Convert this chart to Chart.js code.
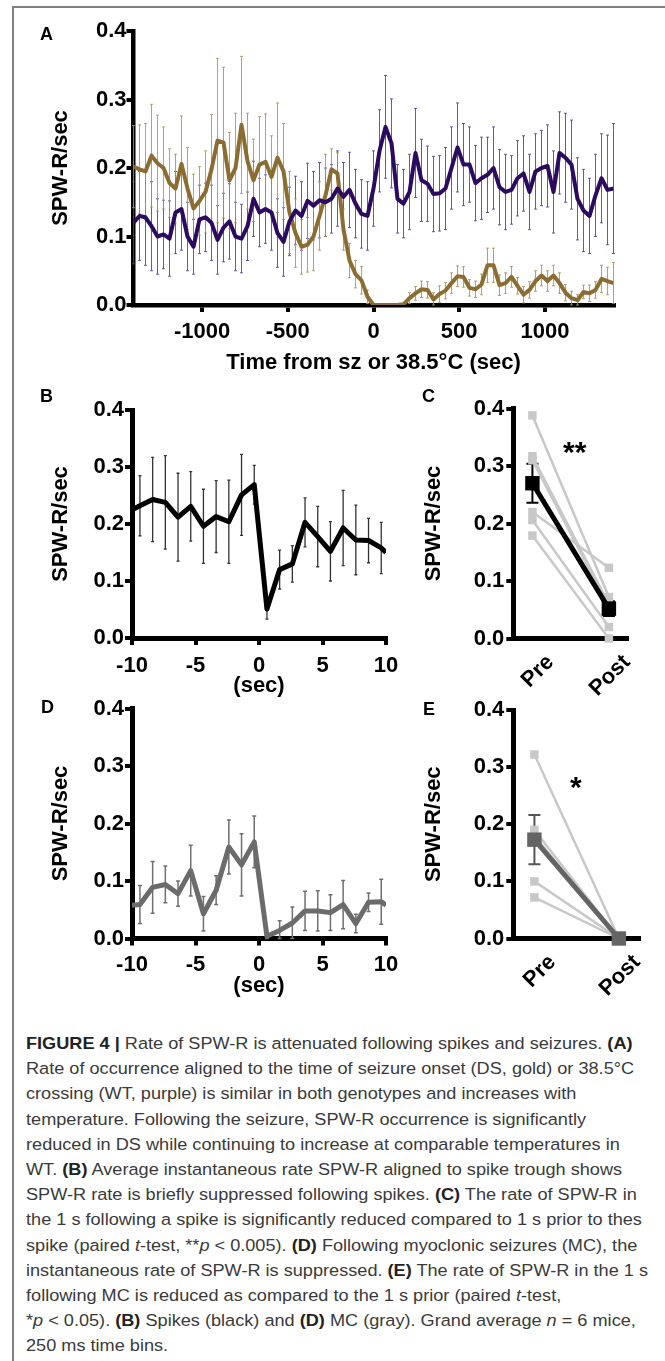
<!DOCTYPE html>
<html>
<head>
<meta charset="utf-8">
<script src="https://cdn.jsdelivr.net/npm/chart.js@4.4.0/dist/chart.umd.min.js"></script>
<style>
  body { margin: 0; background: #fff; width: 665px; height: 1361px; position: relative; overflow: hidden;
         font-family: "Liberation Sans", Arial, sans-serif; }
  canvas { position: absolute; }
  .frame-left { position: absolute; left: 12px; top: 6px; width: 2px; height: 1355px; background: #808080; }
  .frame-top { position: absolute; left: 12px; top: 6px; width: 653px; height: 2px; background: #808080; }
  .letter { position: absolute; font-weight: bold; font-size: 18px; line-height: 18px; color: #000; }
  .star { position: absolute; font-weight: bold; font-size: 30px; line-height: 30px; color: #000; }
  #caption { position: absolute; left: 26px; top: 1031px; font-size: 16.7px; line-height: 25.2px;
             color: #3a3a3a; white-space: nowrap; transform-origin: 0 0; }
  #caption .ln { width: max-content; }
  #caption b { color: #222; }
</style>
</head>
<body>
<div class="frame-left"></div>
<div class="frame-top"></div>

<canvas id="chart-a" width="665" height="385" style="left:0;top:0"></canvas>
<canvas id="chart-b" width="420" height="330" style="left:0;top:380px"></canvas>
<canvas id="chart-c" width="285" height="330" style="left:380px;top:380px"></canvas>
<canvas id="chart-d" width="420" height="330" style="left:0;top:680px"></canvas>
<canvas id="chart-e" width="285" height="330" style="left:380px;top:680px"></canvas>

<div class="letter" style="left:40px;top:25px">A</div>
<div class="letter" style="left:40px;top:387px">B</div>
<div class="letter" style="left:422px;top:387px">C</div>
<div class="letter" style="left:41px;top:698px">D</div>
<div class="letter" style="left:423px;top:700px">E</div>
<div class="star" style="left:563px;top:437px">**</div>
<div class="star" style="left:570px;top:772px">*</div>

<div id="caption">
  <div class="ln"><b>FIGURE 4 | </b>Rate of SPW-R is attenuated following spikes and seizures. <b>(A)</b></div>
  <div class="ln">Rate of occurrence aligned to the time of seizure onset (DS, gold) or 38.5°C</div>
  <div class="ln">crossing (WT, purple) is similar in both genotypes and increases with</div>
  <div class="ln">temperature. Following the seizure, SPW-R occurrence is significantly</div>
  <div class="ln">reduced in DS while continuing to increase at comparable temperatures in</div>
  <div class="ln">WT. <b>(B)</b> Average instantaneous rate SPW-R aligned to spike trough shows</div>
  <div class="ln">SPW-R rate is briefly suppressed following spikes. <b>(C)</b> The rate of SPW-R in</div>
  <div class="ln">the 1 s following a spike is significantly reduced compared to 1 s prior to thes</div>
  <div class="ln">spike (paired <i>t</i>-test, **<i>p</i> &lt; 0.005). <b>(D)</b> Following myoclonic seizures (MC), the</div>
  <div class="ln">instantaneous rate of SPW-R is suppressed. <b>(E)</b> The rate of SPW-R in the 1 s</div>
  <div class="ln">following MC is reduced as compared to the 1 s prior (paired <i>t</i>-test,</div>
  <div class="ln">*<i>p</i> &lt; 0.05). <b>(B)</b> Spikes (black) and <b>(D)</b> MC (gray). Grand average <i>n</i> = 6 mice,</div>
  <div class="ln">250 ms time bins.</div>
</div>

<script>
// Panel A: rate around seizure onset / 38.5°C (sec)
const timeA = [-1400, -1365, -1330, -1295, -1260, -1225, -1190, -1155, -1120, -1085,
  -1050, -1015, -980, -945, -910, -875, -840, -805, -770, -735,
  -700, -665, -630, -595, -560, -525, -490, -455, -420, -385,
  -350, -315, -280, -245, -210, -175, -140, -105, -70, -35,
  0, 35, 70, 105, 140, 175, 210, 245, 280, 315,
  350, 385, 420, 455, 490, 525, 560, 595, 630, 665,
  700, 735, 770, 805, 840, 875, 910, 945, 980, 1015,
  1050, 1085, 1120, 1155, 1190, 1225, 1260, 1295, 1330, 1365, 1400];

const goldDS = [0.202, 0.198, 0.195, 0.218, 0.207, 0.2, 0.178, 0.17, 0.206, 0.17,
  0.141, 0.152, 0.165, 0.198, 0.24, 0.237, 0.182, 0.2, 0.263, 0.21,
  0.182, 0.205, 0.209, 0.187, 0.215, 0.195, 0.135, 0.105, 0.085, 0.088,
  0.1, 0.13, 0.16, 0.198, 0.192, 0.11, 0.065, 0.045, 0.036, 0.012,
  0, 0, 0, 0, 0, 0.001, 0.01, 0.017, 0.023, 0.022,
  0.008, 0.016, 0.021, 0.032, 0.042, 0.041, 0.025, 0.023, 0.03, 0.058,
  0.058, 0.029, 0.032, 0.041, 0.028, 0.015, 0.022, 0.035, 0.043, 0.035,
  0.043, 0.032, 0.018, 0.01, 0.007, 0.019, 0.017, 0.022, 0.038, 0.035, 0.032];

const goldErr = [0.06, 0.065, 0.07, 0.075, 0.07, 0.06, 0.05, 0.05, 0.07, 0.06,
  0.05, 0.05, 0.06, 0.08, 0.12, 0.11, 0.07, 0.08, 0.1, 0.07,
  0.06, 0.07, 0.07, 0.06, 0.08, 0.07, 0.06, 0.05, 0.04, 0.04,
  0.05, 0.05, 0.06, 0.03, 0.03, 0.03, 0.025, 0.02, 0.02, 0.01,
  0, 0, 0, 0, 0, 0, 0.008, 0.01, 0.012, 0.012,
  0.01, 0.012, 0.012, 0.015, 0.015, 0.015, 0.012, 0.012, 0.015, 0.025,
  0.025, 0.015, 0.015, 0.015, 0.012, 0.012, 0.012, 0.015, 0.015, 0.015,
  0.015, 0.015, 0.012, 0.01, 0.008, 0.01, 0.012, 0.012, 0.02, 0.02, 0.03];

const purpleWT = [0.12, 0.13, 0.128, 0.115, 0.1, 0.103, 0.097, 0.135, 0.14, 0.1,
  0.085, 0.125, 0.128, 0.12, 0.095, 0.113, 0.122, 0.1, 0.097, 0.115,
  0.155, 0.135, 0.14, 0.135, 0.105, 0.092, 0.122, 0.138, 0.13, 0.152,
  0.145, 0.153, 0.15, 0.155, 0.17, 0.158, 0.168, 0.148, 0.133, 0.13,
  0.17, 0.225, 0.26, 0.236, 0.155, 0.148, 0.165, 0.222, 0.182, 0.177,
  0.162, 0.163, 0.17, 0.2, 0.23, 0.205, 0.205, 0.178, 0.185, 0.19,
  0.2, 0.172, 0.165, 0.168, 0.185, 0.192, 0.165, 0.195, 0.2, 0.203,
  0.165, 0.222, 0.215, 0.205, 0.155, 0.138, 0.13, 0.16, 0.185, 0.168, 0.17];

const purpleErr = [0.06, 0.065, 0.07, 0.065, 0.055, 0.05, 0.055, 0.06, 0.06, 0.05,
  0.04, 0.05, 0.05, 0.055, 0.05, 0.05, 0.055, 0.05, 0.05, 0.05,
  0.055, 0.05, 0.05, 0.055, 0.05, 0.05, 0.05, 0.05, 0.05, 0.055,
  0.05, 0.055, 0.05, 0.05, 0.055, 0.05, 0.055, 0.05, 0.05, 0.05,
  0.055, 0.06, 0.075, 0.065, 0.05, 0.05, 0.055, 0.065, 0.06, 0.055,
  0.055, 0.055, 0.06, 0.06, 0.065, 0.06, 0.055, 0.055, 0.06, 0.055,
  0.06, 0.055, 0.055, 0.05, 0.055, 0.055, 0.055, 0.055, 0.055, 0.06,
  0.06, 0.06, 0.065, 0.065, 0.06, 0.06, 0.055, 0.06, 0.065, 0.08, 0.095];

const timeTicksA = [-1000, -500, 0, 500, 1000];
const rateTicks = [0, 0.1, 0.2, 0.3, 0.4];

// Panels B and D: 250 ms bins around spike / MC (sec)
const secBins = [-10, -9.375, -8.375, -7.375, -6.375, -5.375, -4.375, -3.375, -2.375, -1.375,
  -0.375, 0.625, 1.625, 2.625, 3.625, 4.625, 5.625, 6.625, 7.625, 8.625, 9.625, 10];
const secTicks = [-10, -5, 0, 5, 10];

const spikeRate = [0.225, 0.232, 0.243, 0.238, 0.212, 0.231, 0.196, 0.213, 0.204, 0.251,
  0.269, 0.051, 0.12, 0.13, 0.203, 0.178, 0.152, 0.193, 0.172, 0.171, 0.158, 0.15];
const spikeErr = [null, 0.053, 0.074, 0.082, 0.077, 0.061, 0.065, 0.063, 0.073, 0.071,
  0.034, 0.018, 0.034, 0.032, 0.043, 0.053, 0.052, 0.066, 0.061, 0.039, 0.045, null];

const mcRate = [0.058, 0.059, 0.089, 0.094, 0.078, 0.118, 0.043, 0.084, 0.159, 0.128,
  0.168, 0.004, 0.014, 0.027, 0.048, 0.048, 0.045, 0.059, 0.026, 0.063, 0.064, 0.058];
const mcErr = [null, 0.033, 0.045, 0.032, 0.022, 0.044, 0.03, 0.025, 0.047, 0.054,
  0.045, 0.004, 0.017, 0.028, 0.034, 0.035, 0.031, 0.042, 0.016, 0.016, 0.039, null];

// Panels C and E: per mouse, 1 s before and after
const prePost = ["Pre", "Post"];
const spikePre = [0.388, 0.317, 0.31, 0.22, 0.206, 0.179];
const spikePost = [0.072, 0.06, 0.055, 0.123, 0.02, 0.0];
const spikeMean = [0.27, 0.052];
const spikeMeanErr = [0.034, 0.013];

const mcPre = [0.322, 0.19, 0.18, 0.175, 0.1, 0.072];
const mcPost = [0, 0, 0, 0, 0, 0];
const mcMean = [0.173, 0];
const mcMeanErr = [0.043, 0];

const FONT = "'Liberation Sans', Arial, Helvetica, sans-serif";
const GOLD = "#8c6d31";
const PURPLE = "#2b0a5f";

// error bars drawn under the lines, through the chart's y scale
const errorBars = {
  id: "errorBars",
  beforeDatasetsDraw(chart) {
    const ctx = chart.ctx;
    const yScale = chart.scales.y;
    chart.data.datasets.forEach((ds, i) => {
      if (!ds.errors) return;
      const meta = chart.getDatasetMeta(i);
      ctx.save();
      ctx.strokeStyle = ds.errorColor;
      ctx.lineWidth = ds.errorWidth;
      meta.data.forEach((pt, j) => {
        const e = ds.errors[j];
        if (!e) return;
        const v = ds.data[j].y;
        const top = yScale.getPixelForValue(v + e);
        const bot = yScale.getPixelForValue(Math.max(0, v - e));
        const c = ds.errorCap;
        ctx.beginPath();
        ctx.moveTo(pt.x, top);
        ctx.lineTo(pt.x, bot);
        ctx.moveTo(pt.x - c, top);
        ctx.lineTo(pt.x + c, top);
        ctx.moveTo(pt.x - c, bot);
        ctx.lineTo(pt.x + c, bot);
        ctx.stroke();
      });
      ctx.restore();
    });
  },
};

function points(xs, ys) {
  return xs.map((x, i) => ({ x: x, y: ys[i] }));
}

function rateAxis(width, opts) {
  return {
    type: "linear",
    min: 0,
    max: 0.4,
    afterBuildTicks: (s) => { s.ticks = rateTicks.map((v) => ({ value: v })); },
    afterFit: (s) => { s.width = width; },
    ticks: { font: { family: FONT, size: 22, weight: "bold" }, color: "#000", padding: opts.pad,
             callback: (v) => v.toFixed(1) },
    grid: { drawOnChartArea: false, drawTicks: true, tickLength: 7, lineWidth: 4, color: "#000" },
    border: { display: true, width: opts.border, color: "#000" },
    title: { display: true, text: "SPW-R/sec", color: "#000", padding: 0,
             font: { family: FONT, size: 22, weight: "bold" } },
  };
}

function timeAxis(min, max, ticks, height, title, pad, border) {
  return {
    type: "linear",
    min: min,
    max: max,
    afterBuildTicks: (s) => { s.ticks = ticks.map((v) => ({ value: v })); },
    afterFit: (s) => { s.height = height; },
    ticks: { font: { family: FONT, size: 22, weight: "bold" }, color: "#000", padding: pad,
             maxRotation: 0, minRotation: 0, callback: (v) => String(v) },
    grid: { drawOnChartArea: false, drawTicks: true, tickLength: 7, lineWidth: 4, color: "#000" },
    border: { display: true, width: border, color: "#000" },
    title: { display: true, text: title, color: "#000", padding: 0,
             font: { family: FONT, size: 22, weight: "bold" } },
  };
}

function prePostAxis(height) {
  return {
    type: "linear",
    min: -0.25,
    max: 1.25,
    afterBuildTicks: (s) => { s.ticks = [0, 1].map((v) => ({ value: v })); },
    afterFit: (s) => { s.height = height; },
    ticks: { font: { family: FONT, size: 22, weight: "bold" }, color: "#000", padding: 11,
             labelOffset: 18, maxRotation: 45, minRotation: 45,
             callback: (v, i) => prePost[i] },
    grid: { drawOnChartArea: false, drawTicks: false },
    border: { display: true, width: 5, color: "#000" },
  };
}

const baseOptions = {
  responsive: false,
  animation: false,
  plugins: { legend: { display: false }, tooltip: { enabled: false } },
};

// A
new Chart(document.getElementById("chart-a"), {
  type: "line",
  data: {
    datasets: [
      { data: points(timeA, purpleWT), borderColor: PURPLE, borderWidth: 4, pointRadius: 0,
        borderJoinStyle: "round", errors: purpleErr, errorColor: "rgba(80,60,140,0.85)",
        errorWidth: 1, errorCap: 1.5 },
      { data: points(timeA, goldDS), borderColor: GOLD, borderWidth: 4, pointRadius: 0,
        borderJoinStyle: "round", errors: goldErr, errorColor: "rgba(170,145,90,0.85)",
        errorWidth: 1, errorCap: 1.5 },
    ],
  },
  options: {
    ...baseOptions,
    layout: { padding: { left: 47.8, top: 31, right: 51.5, bottom: 8.8 } },
    scales: {
      x: timeAxis(-1400, 1400, timeTicksA, 71.2, "Time from sz or 38.5°C (sec)", 6.5, 4.5),
      y: rateAxis(85.7, { pad: 0, border: 4.5 }),
    },
  },
  plugins: [errorBars],
});

// B
new Chart(document.getElementById("chart-b"), {
  type: "line",
  data: {
    datasets: [
      { data: points(secBins, spikeRate), borderColor: "#000", borderWidth: 5, pointRadius: 0,
        borderJoinStyle: "round", errors: spikeErr, errorColor: "#333", errorWidth: 1.3, errorCap: 1.5 },
    ],
  },
  options: {
    ...baseOptions,
    layout: { padding: { left: 47.8, top: 30, right: 34, bottom: 10.8 } },
    scales: {
      x: timeAxis(-10, 10, secTicks, 61.2, "(sec)", 7.3, 5),
      y: rateAxis(84.2, { pad: 1, border: 5 }),
    },
  },
  plugins: [errorBars],
});

// D
new Chart(document.getElementById("chart-d"), {
  type: "line",
  data: {
    datasets: [
      { data: points(secBins, mcRate), borderColor: "#6b6b6b", borderWidth: 5, pointRadius: 0,
        borderJoinStyle: "round", errors: mcErr, errorColor: "#707070", errorWidth: 1.5, errorCap: 2 },
    ],
  },
  options: {
    ...baseOptions,
    layout: { padding: { left: 47.8, top: 28.5, right: 34, bottom: 10.8 } },
    scales: {
      x: timeAxis(-10, 10, secTicks, 60.7, "(sec)", 6.3, 5),
      y: rateAxis(84.2, { pad: 1, border: 5 }),
    },
  },
  plugins: [errorBars],
});

// C and E: paired mice in light gray, mean ± error on top
function pairedDatasets(pre, post, mean, meanErr, meanColor, errColor) {
  const sets = [
    { data: points([0, 1], mean), borderColor: meanColor, borderWidth: 5, pointStyle: "rect",
      pointRadius: 10.2, pointBackgroundColor: meanColor, pointBorderWidth: 0, clip: false,
      errors: meanErr, errorColor: errColor, errorWidth: 2, errorCap: 6 },
  ];
  pre.forEach((v, i) => {
    sets.push({ data: points([0, 1], [v, post[i]]), borderColor: "#c8c8c8", borderWidth: 2.5,
      pointStyle: "rect", pointRadius: 6, pointBackgroundColor: "#c8c8c8", pointBorderWidth: 0,
      clip: false });
  });
  return sets;
}

new Chart(document.getElementById("chart-c"), {
  type: "line",
  data: { datasets: pairedDatasets(spikePre, spikePost, spikeMean, spikeMeanErr, "#000", "#000") },
  options: {
    ...baseOptions,
    layout: { padding: { left: 40.3, top: 28.5, right: 37, bottom: 0 } },
    scales: { x: prePostAxis(71.5), y: rateAxis(93, { pad: 2, border: 5 }) },
  },
  plugins: [errorBars],
});

new Chart(document.getElementById("chart-e"), {
  type: "line",
  data: { datasets: pairedDatasets(mcPre, mcPost, mcMean, mcMeanErr, "#646464", "#555") },
  options: {
    ...baseOptions,
    layout: { padding: { left: 40.3, top: 30, right: 25, bottom: 0 } },
    scales: { x: prePostAxis(71.5), y: rateAxis(93, { pad: 2, border: 5 }) },
  },
  plugins: [errorBars],
});

// caption: narrow the lines to the figure's measure
const caption = document.getElementById("caption");
let widest = 0;
caption.querySelectorAll(".ln").forEach((l) => {
  widest = Math.max(widest, l.getBoundingClientRect().width);
});
caption.style.transform = "scaleX(" + (622 / widest).toFixed(4) + ")";
</script>
</body>
</html>
